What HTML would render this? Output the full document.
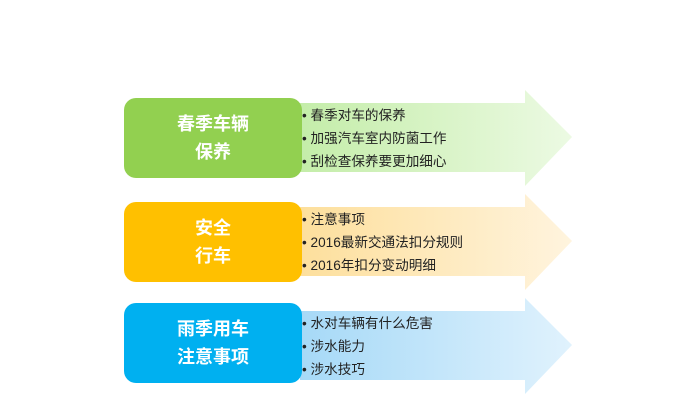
<!DOCTYPE html>
<html><head><meta charset="utf-8"><style>
body{margin:0;width:700px;height:413px;background:#fff;overflow:hidden;font-family:"Liberation Sans","Noto Sans CJK SC",sans-serif;}
.b{position:absolute;left:124px;width:178px;height:80px;border-radius:12px;color:#fff;font-weight:bold;font-size:18px;line-height:28px;display:flex;align-items:center;justify-content:center;text-align:center;}
.t{position:absolute;left:302px;font-size:13.6px;line-height:23px;color:#222;}
svg{position:absolute;left:0;top:0}
</style></head><body>
<svg width="700" height="413">
<defs>
<linearGradient id="g1"><stop offset="0" stop-color="#c4eda9"/><stop offset="1" stop-color="#ecfae3"/></linearGradient>
<linearGradient id="g2"><stop offset="0" stop-color="#fddf9c"/><stop offset="1" stop-color="#fff4de"/></linearGradient>
<linearGradient id="g3"><stop offset="0" stop-color="#a6d9f7"/><stop offset="1" stop-color="#e0f2fd"/></linearGradient>
</defs>
<polygon points="300,103 525,103 525,90 572,137 525,186 525,172 300,172" fill="url(#g1)"/>
<polygon points="300,207 525,207 525,194 572,241 525,290 525,276 300,276" fill="url(#g2)"/>
<polygon points="300,311 525,311 525,298 572,345 525,394 525,380 300,380" fill="url(#g3)"/>
</svg>
<div class="b" style="top:98px;background:#92d050">春季车辆<br>保养</div>
<div class="b" style="top:202px;background:#ffc000">安全<br>行车</div>
<div class="b" style="top:303px;background:#00b0f0">雨季用车<br>注意事项</div>
<div class="t" style="top:104px">• 春季对车的保养<br>• 加强汽车室内防菌工作<br>• 刮检查保养要更加细心</div>
<div class="t" style="top:208px">• 注意事项<br>• 2016最新交通法扣分规则<br>• 2016年扣分变动明细</div>
<div class="t" style="top:312px">• 水对车辆有什么危害<br>• 涉水能力<br>• 涉水技巧</div>
</body></html>
